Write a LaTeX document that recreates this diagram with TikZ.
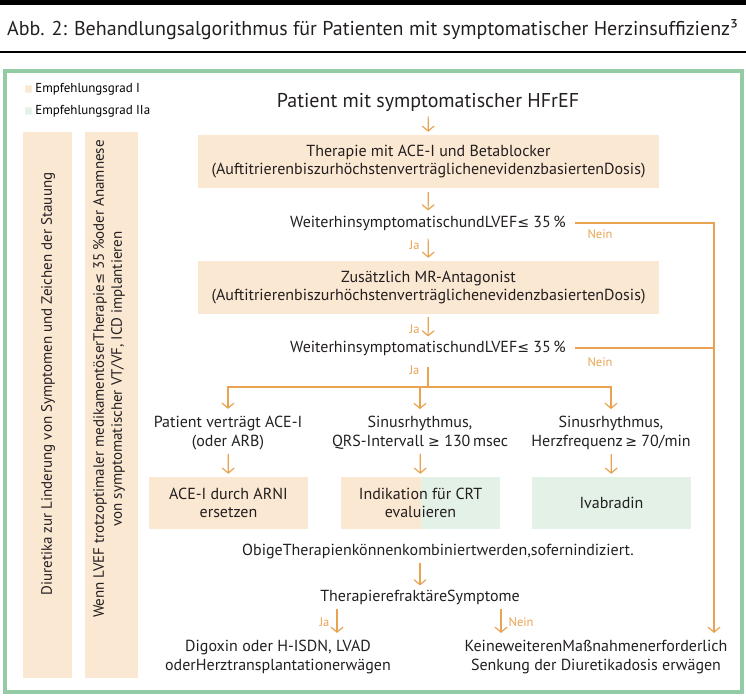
\documentclass[tikz,border=0pt]{standalone}
\usepackage{fontspec}
\setmainfont{PT Sans}
\newfontfamily\symfont{DejaVu Sans}[Scale=0.88]
\newcommand\lesym{{\symfont ≤}}
\newcommand\gesym{{\symfont ≥}}
\usetikzlibrary{arrows.meta, positioning, calc}
\definecolor{cpeach}{HTML}{FBE8D3}
\definecolor{cmint}{HTML}{E4F1E7}
\definecolor{corange}{HTML}{E8A352}
\definecolor{cframe}{HTML}{93CBA4}
\definecolor{ctext}{HTML}{231F20}
\tikzset{
  every picture/.style={x=1pt, y=-1pt},
  box/.style={fill=#1, align=center, inner sep=0pt, text=ctext, font=\fontsize{16}{18}\selectfont},
  box/.default=cpeach,
  widebox/.style={box, minimum width=461pt, minimum height=53pt},
  smallbox/.style={box=#1, minimum width=159pt, minimum height=52pt},
  smallbox/.default=cpeach,
  txt/.style={align=center, inner sep=1pt, text=ctext, font=\fontsize{16}{19}\selectfont},
  arrow/.style={-{Straight Barb[length=5pt, width=12pt]}, draw=corange, line width=1.2pt},
  link/.style={draw=corange, line width=1.2pt},
  yn/.style={text=corange, inner sep=0pt, font=\fontsize{12.5}{14}\selectfont},
  legbox/.style={fill=#1, draw=#1!70!white, line width=0.4pt, minimum width=6pt, minimum height=7pt, inner sep=0pt},
  bar/.style={fill=cpeach, minimum width=#1, minimum height=546pt, inner sep=0pt},
}

\begin{document}
\begin{tikzpicture}
  \useasboundingbox (0,0) rectangle (746,697);
  \draw[line width=4.5pt] (0,2.5) -- (746,2.5);
  \draw[line width=1.6pt] (0,52) -- (746,52);
  \node[anchor=west, inner sep=0pt, text=ctext, font=\fontsize{20}{23}\selectfont] (title) at (7,30)
    {Abb. 2: Behandlungsalgorithmus für Patienten mit symptomatischer Herzinsuffizienz³};
  \draw[cframe, line width=4pt] (4.5,70.5) rectangle (741.5,692);

  % legend
  \node[legbox=cpeach] (leg1) at (28,89) {};
  \node[legbox=cmint] (leg2) at (28,111) {};
  \node[right=4pt of leg1, inner sep=0pt, font=\fontsize{13}{15}\selectfont] (leg1txt) {Empfehlungsgrad I};
  \node[right=4pt of leg2, inner sep=0pt, font=\fontsize{13}{15}\selectfont] (leg2txt) {Empfehlungsgrad IIa};

  % side bars
  \node[bar=49pt] (diurbar) at (47.5,405) {};
  \node[bar=53pt] (icdbar) at (111.5,405) {};
  \node[txt, rotate=90, font=\fontsize{15}{18}\selectfont] (diur) at (48,384)
    {Diuretika zur Linderung von Symptomen und Zeichen der Stauung};
  \node[txt, rotate=90, font=\fontsize{15}{18}\selectfont] (icd) at (109,379)
    {Wenn LVEF trotzoptimaler medikamentöserTherapie\lesym{} 35\,\%oder Anamnese\\von symptomatischer VT/VF, ICD implantieren};

  % main column
  \node[txt, font=\fontsize{20}{23}\selectfont] (start) at (428,102) {Patient mit symptomatischer HFrEF};
  \node[widebox] (ace) at (428.5,161.5)
    {Therapie mit ACE-I und Betablocker\\(AuftitrierenbiszurhöchstenverträglichenevidenzbasiertenDosis)};
  \node[txt] (q1) at (428,223) {WeiterhinsymptomatischundLVEF\lesym{} 35\,\%};
  \node[widebox] (mra) at (428.5,287.5)
    {Zusätzlich MR-Antagonist\\(AuftitrierenbiszurhöchstenverträglichenevidenzbasiertenDosis)};
  \node[txt] (q2) at (428,348) {WeiterhinsymptomatischundLVEF\lesym{} 35\,\%};
  \coordinate (split) at (428,387);

  \node[txt] (c1) at (228,433) {Patient verträgt ACE-I\\(oder ARB)};
  \node[txt] (c2) at (420,433) {Sinusrhythmus,\\QRS-Intervall \gesym{} 130\,msec};
  \node[txt] (c3) at (611,433) {Sinusrhythmus,\\Herzfrequenz\,\gesym{} 70/min};
  \node[smallbox] (arni) at (228.5,503) {ACE-I durch ARNI\\ersetzen};
  \node[smallbox, path picture={\fill[cmint] (path picture bounding box.north) rectangle (path picture bounding box.south east);}]
    (crt) at (420.5,503) {Indikation für CRT\\evaluieren};
  \node[smallbox=cmint] (ivab) at (611.5,503) {Ivabradin};

  \node[txt] (obige) at (438,551) {ObigeTherapienkönnenkombiniertwerden,sofernindiziert.};
  \node[txt] (refr) at (420,597) {TherapierefraktäreSymptome};
  \node[txt] (digo) at (278,657) {Digoxin oder H-ISDN, LVAD\\oderHerztransplantationerwägen};
  \node[txt] (keine) at (596,657) {KeineweiterenMaßnahmenerforderlich\\Senkung der Diuretikadosis erwägen};
  \coordinate (nein) at (714,223);

  % connectors
  \draw[arrow, shorten <=4pt, shorten >=3pt] (start) -- (ace);
  \draw[arrow, shorten <=4pt, shorten >=4pt] (ace) -- (q1);
  \draw[arrow, shorten <=7pt, shorten >=3pt] (q1) -- (mra) node[yn, pos=0.45, left=8pt] (ja1) {Ja};
  \draw[arrow, shorten <=3pt, shorten >=3pt] (mra) -- (q2) node[yn, pos=0.6, left=8pt] (ja2) {Ja};
  \draw[link, shorten <=10pt] (q2) -- (split) node[yn, pos=0.45, left=8pt] (ja3) {Ja};
  \draw[arrow, shorten >=6pt] (split) -| (c1);
  \draw[arrow, shorten >=6pt] (split) -| (c2);
  \draw[arrow, shorten >=6pt] (split) -| (c3);
  \draw[arrow, shorten <=3pt, shorten >=3pt] (c1) -- (arni);
  \draw[arrow, shorten <=3pt, shorten >=3pt] (c2) -- (crt);
  \draw[arrow, shorten <=3pt, shorten >=3pt] (c3) -- (ivab);
  \draw[arrow, shorten <=3pt, shorten >=3pt] (obige.south -| refr) -- (refr);
  \draw[arrow, shorten <=3pt, shorten >=6pt] ([xshift=-83pt]refr.south) -- ([xshift=-83pt]refr.south |- digo.north)
    node[yn, midway, left=7pt] (ja4) {Ja};
  \draw[arrow, shorten <=3pt, shorten >=6pt] ([xshift=81pt]refr.south) -- ([xshift=81pt]refr.south |- keine.north)
    node[yn, midway, right=7pt] (nein3) {Nein};
  \draw[arrow, shorten <=8pt, shorten >=6pt] (q1.east) -- (nein) -- (nein |- keine.north);
  \draw[link, shorten <=8pt] (q2.east) -- (q2.east -| nein);
  \node[yn] (nein1) at (600,234) {Nein};
  \node[yn] (nein2) at (600,362) {Nein};
\end{tikzpicture}
\end{document}
